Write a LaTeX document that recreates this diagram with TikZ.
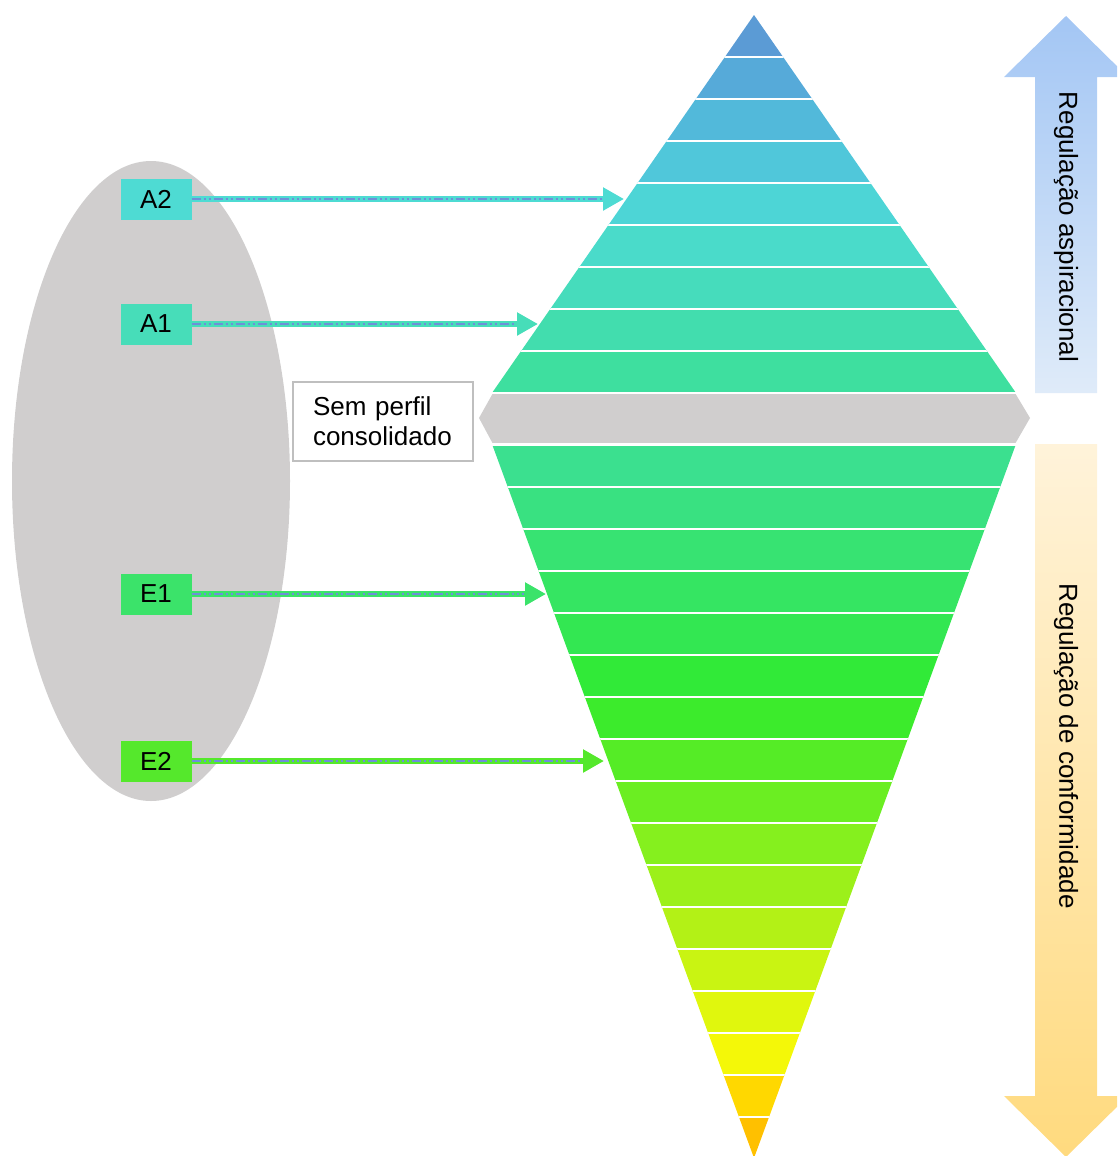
\documentclass[tikz,border=0pt]{standalone}
\usepackage{fontspec}
\setmainfont{Liberation Sans}
\usetikzlibrary{arrows.meta}

\definecolor{greyfill}{HTML}{D0CECE}
\definecolor{boxline}{HTML}{BFBFBF}
\definecolor{dashblue}{HTML}{6F8FD8}
\definecolor{colA2}{HTML}{4EDBD3}
\definecolor{colA1}{HTML}{47DDB9}
\definecolor{colE1}{HTML}{3BE36A}
\definecolor{colE2}{HTML}{55E82C}
\definecolor{upTop}{HTML}{A3C6F4}
\definecolor{upBot}{HTML}{DFEBF9}
\definecolor{dnTop}{HTML}{FFF3DA}
\definecolor{dnBot}{HTML}{FFDA7E}

\tikzset{
  lvlbox/.style={rectangle, draw=none, minimum width=71pt, minimum height=41pt,
    inner sep=0pt, font=\fontsize{26}{30}\selectfont},
  linkarrow/.style={line width=6pt, -{Triangle[length=21pt,width=22pt]}},
  centerdash/.style={dashblue, line width=1.2pt,
    dash pattern=on 9pt off 3pt on 2pt off 3pt on 2pt off 3pt, shorten >=22pt},
  sepline/.style={white, line width=2.5pt},
  sidelabel/.style={rotate=-90, font=\fontsize{26}{30}\selectfont, inner sep=0pt},
}

\begin{document}
\begin{tikzpicture}[x=1pt,y=-1pt]
  \useasboundingbox (0,0) rectangle (1117,1156);
  \clip (0,0) rectangle (1117,1156);

  % profile ellipse
  \fill[greyfill] (151,481) ellipse [x radius=139, y radius=320];

  % upper triangle: aspirational levels
  \begin{scope}
    \clip (754,15) -- (1016,393) -- (492,393) -- cycle;
    \foreach \c [count=\i] in {5B9BD5,56AAD9,52B9DA,50C7DA,4DD5D6,4ADBCA,46DCBC,42DDAE,3EDF9F}{
      \definecolor{bandc}{HTML}{\c}
      \fill[bandc] (480,{15+42*(\i-1)}) rectangle (1030,{15+42*\i});
    }
    \foreach \y in {57,99,...,351}{
      \draw[sepline] (480,\y) -- (1030,\y);
    }
  \end{scope}

  % central grey band
  \fill[greyfill] (493,393) -- (1015,393) -- (1030,418) -- (1015,444) -- (493,444) -- (479,418) -- cycle;

  % lower triangle: conformity levels
  \begin{scope}
    \clip (492,444) -- (1016,444) -- (754,1158) -- cycle;
    \foreach \c [count=\i] in {3BE08F,39E181,37E372,35E562,33E752,31EA38,3CEB2C,55EC26,6BEE22,85F01E,9CF01A,B3F116,C9F412,E0F70D,F4F808,FFD800,FFC000}{
      \definecolor{bandc}{HTML}{\c}
      \fill[bandc] (480,{445+42*(\i-1)}) rectangle (1030,{445+42*\i});
    }
    \foreach \y in {487,529,...,1117}{
      \draw[sepline] (480,\y) -- (1030,\y);
    }
  \end{scope}
  \draw[sepline] (476,393) -- (1040,393);
  \draw[sepline] (476,444.5) -- (1040,444.5);

  % right-hand direction arrows
  \shade[top color=upTop, bottom color=upBot]
    (1066,16) -- (1128,77) -- (1097,77) -- (1097,393) -- (1035,393) -- (1035,77) -- (1004,77) -- cycle;
  \shade[top color=dnTop, bottom color=dnBot]
    (1035,444) -- (1097,444) -- (1097,1096) -- (1128,1096) -- (1066,1157) -- (1004,1096) -- (1035,1096) -- cycle;
  \node[sidelabel] (asp) at (1066,227) {Regulação aspiracional};
  \node[sidelabel] (conf) at (1066,746) {Regulação de conformidade};

  % unconsolidated profile label
  \node[rectangle, draw=boxline, line width=2pt, minimum width=180pt, minimum height=79pt,
        text width=140pt, align=left, inner xsep=20pt, inner ysep=0pt,
        font=\fontsize{26}{30}\selectfont] (sem) at (383,421) {Sem perfil\\consolidado};

  % level boxes
  \node[lvlbox, fill=colA2] (a2) at (156,199) {A2};
  \node[lvlbox, fill=colA1] (a1) at (156,324) {A1};
  \node[lvlbox, fill=colE1] (e1) at (156,594) {E1};
  \node[lvlbox, fill=colE2] (e2) at (156,761) {E2};

  \coordinate (a2t) at (624,199);
  \coordinate (a1t) at (538,324);
  \coordinate (e1t) at (546,594);
  \coordinate (e2t) at (604,761);

  \draw[linkarrow, colA2] (a2.east) -- (a2t);
  \draw[centerdash] (a2.east) -- (a2t);
  \draw[linkarrow, colA1] (a1.east) -- (a1t);
  \draw[centerdash] (a1.east) -- (a1t);
  \draw[linkarrow, colE1] (e1.east) -- (e1t);
  \draw[centerdash] (e1.east) -- (e1t);
  \draw[linkarrow, colE2] (e2.east) -- (e2t);
  \draw[centerdash] (e2.east) -- (e2t);
\end{tikzpicture}
\end{document}
